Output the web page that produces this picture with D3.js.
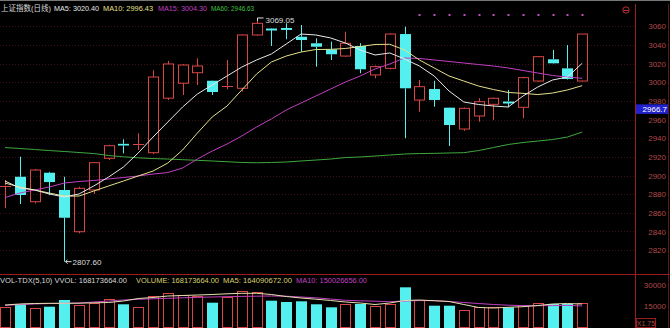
<!DOCTYPE html>
<html><head><meta charset="utf-8">
<script src="https://cdn.jsdelivr.net/npm/d3@7"></script>
<style>html,body{margin:0;padding:0;background:#000;overflow:hidden}</style>
</head><body>
<svg id="c" width="670" height="328"></svg>
<script>
const indexName = "上证指数(日线)";
const opens  = [2888.2,2898.7,2871.9,2903.0,2884.5,2839.7,2884.5,2918.5,2934.0,2932.6,2924.5,2983.0,2999.0,3010.3,3001.7,2995.3,2993.6,3050.8,3057.5,3058.3,3048.9,3041.9,3035.4,3028.2,3039.0,3007.9,3015.0,3051.8,2981.0,2992.8,2972.8,2949.9,2963.9,2976.4,2980.0,2973.2,3001.4,3024.7,3015.0,3001.4];
const closes = [2889.4,2879.1,2905.9,2893.0,2854.7,2886.3,2913.8,2932.0,2932.2,2934.0,3005.7,3019.7,3018.6,3017.5,2989.6,2996.3,3050.8,3063.3,3056.5,3056.2,3045.4,3038.2,3030.1,3041.9,3014.0,3016.8,3051.8,2993.6,2995.3,2981.0,2954.2,2972.1,2979.2,2982.9,2978.5,3005.0,3027.5,3020.4,3003.6,3051.8];
const highs  = [2895.2,2920.2,2907.0,2904.0,2898.7,2888.0,2914.5,2933.0,2938.9,2945.3,3013.0,3023.0,3019.5,3025.8,3002.0,3024.0,3051.5,3069.05,3058.0,3063.3,3061.5,3047.2,3043.6,3054.3,3042.0,3018.0,3052.5,3059.7,3002.5,3001.7,2973.0,2973.0,2983.0,2983.5,2991.8,3006.0,3028.0,3034.7,3040.0,3052.0];
const lows   = [2865.0,2869.4,2870.0,2879.0,2807.6,2838.0,2880.2,2916.5,2923.8,2927.4,2923.0,2981.0,2986.4,2997.1,2986.4,2992.5,2990.0,3050.0,3039.0,3046.2,3032.9,3016.8,3024.0,3027.5,3009.7,3004.3,3014.0,2940.0,2968.5,2973.8,2931.7,2948.0,2957.7,2959.6,2973.2,2961.4,3000.5,3020.0,3003.0,3001.0];
const ma5  = [2894.1,2886.6,2884.5,2880.2,2877.0,2880.2,2888.8,2898.4,2909.1,2924.2,2941.3,2957.4,2973.5,2987.5,2997.1,3006.8,3016.4,3024.0,3030.4,3041.1,3051.8,3050.8,3047.6,3042.2,3034.7,3029.3,3031.5,3025.0,3017.5,3006.8,2990.7,2978.9,2976.2,2974.6,2973.5,2985.3,2995.0,3002.5,3005.7,3020.40];
const ma10 = [2891.9,2887.7,2884.5,2881.2,2878.0,2878.0,2883.4,2888.8,2894.1,2899.5,2904.8,2913.4,2927.4,2945.6,2962.8,2974.6,2991.8,3008.9,3021.8,3028.2,3032.5,3035.2,3035.4,3036.3,3038.4,3040.6,3040.8,3034.7,3024.0,3015.4,3006.8,3001.4,2996.0,2992.3,2989.1,2988.2,2986.9,2988.5,2991.8,2996.43];
const ma15 = [2876.4,2881.2,2884.5,2887.7,2891.9,2893.6,2894.7,2896.3,2897.9,2899.5,2901.6,2903.2,2908.1,2917.7,2926.3,2933.8,2942.4,2952.1,2960.7,2970.3,2977.8,2985.3,2992.8,3000.3,3006.8,3014.3,3019.7,3026.1,3025.6,3024.0,3022.4,3020.7,3019.1,3017.5,3015.4,3012.7,3010.0,3007.3,3005.7,3004.30];
const ma60 = [2930.0,2929.0,2927.9,2926.8,2925.8,2924.7,2923.6,2921.5,2920.1,2919.0,2918.2,2917.7,2917.0,2916.3,2915.6,2914.8,2914.0,2913.7,2914.0,2914.5,2915.6,2916.6,2917.7,2919.3,2919.9,2920.9,2922.0,2923.1,2923.6,2923.8,2924.2,2924.5,2926.8,2930.0,2933.3,2935.4,2937.0,2938.6,2941.3,2946.63];
// volume in units of 10,000
const volume  = [14071,16429,13357,14500,19286,15714,17357,19786,16214,14071,22143,24071,22857,22143,17357,21643,25929,25214,18786,17857,18357,16214,14071,16214,16429,15000,16214,28357,19286,15214,15214,12143,14500,14071,14071,15714,17357,16429,16429,16817.3664];
const volMa5  = [15714,16429,16786,16929,16929,17000,17286,17500,18571,20357,21071,22143,22500,22857,23214,23714,24071,24071,23214,21786,20714,19857,18929,17857,17143,16071,17143,18929,19286,18786,18214,16071,13929,13571,14071,14500,15357,16429,16786,16409.0672];
const volMa10 = [15357,16071,16429,16786,16929,17143,17857,18571,19286,19786,20143,20500,20857,21143,21429,21643,21857,22000,22143,22000,21429,20857,20000,19071,18714,18429,18071,18571,18857,18786,18214,17500,16786,16071,15571,15286,15214,15286,15429,15002.6656];
const priceTicks = [3060,3040,3020,3000,2980,2960,2940,2920,2900,2880,2860,2840,2820];
const volTicks = [30000,15000];
const lastPrice = 2966.7;
const markerDays = [28,29,30,31,32,33,34,35,36,37,38,39];

const svg = d3.select("#c");
const FONT = "'Liberation Sans', Arial, 'Noto Sans CJK SC', sans-serif";
const N = opens.length;
const x = d3.scalePoint().domain(d3.range(N)).range([5, 582.2]);
const y = d3.scaleLinear().domain([2820, 3060]).range([250.1, 26.4]);
const vy = d3.scaleLinear().domain([0, 30000]).range([327, 285]);
const UP = "#d84646", DOWN = "#54f0f0", FRAME = "#9a1c1c";

svg.append("rect").attr("width",670).attr("height",328).attr("fill","#000");
svg.append("line").attr("x1",0).attr("x2",670).attr("y1",0.5).attr("y2",0.5).attr("stroke","#777");

// grid
svg.append("g").selectAll("line").data(priceTicks).join("line")
  .attr("x1",0).attr("x2",635).attr("y1",d=>Math.round(y(d))+0.5).attr("y2",d=>Math.round(y(d))+0.5)
  .attr("stroke","#3a1414").attr("stroke-dasharray","1,2");

// frames
svg.append("line").attr("x1",635.5).attr("x2",635.5).attr("y1",4).attr("y2",328).attr("stroke",FRAME);
svg.append("line").attr("x1",668.5).attr("x2",668.5).attr("y1",4).attr("y2",328).attr("stroke","#5a1a1a");
svg.append("line").attr("x1",0).attr("x2",670).attr("y1",274.5).attr("y2",274.5).attr("stroke",FRAME);

// small window icon at top right
svg.append("circle").attr("cx",626).attr("cy",10).attr("r",3.2).attr("fill","none").attr("stroke","#c03030");
svg.append("line").attr("x1",623.5).attr("x2",628.5).attr("y1",10.5).attr("y2",10.5).attr("stroke","#c03030");

// price axis
const ay = svg.append("g").attr("transform","translate(667,0)")
  .call(d3.axisLeft(y).tickValues(priceTicks).tickSize(0).tickPadding(1).tickFormat(d3.format("d")));
ay.select(".domain").remove();
ay.selectAll("text").attr("fill","#b04848").attr("font-size",8).attr("font-family",FONT);

const av = svg.append("g").attr("transform","translate(667,0)")
  .call(d3.axisLeft(vy).tickValues(volTicks).tickSize(0).tickPadding(1).tickFormat(d3.format("d")));
av.select(".domain").remove();
av.selectAll("text").attr("fill","#b04848").attr("font-size",8).attr("font-family",FONT);

// last price box
const ly = y(lastPrice);
svg.append("rect").attr("x",636).attr("y",ly-9).attr("width",32).attr("height",9.5).attr("fill","#2222cc");
svg.append("text").attr("x",667).attr("y",ly-1.5).attr("text-anchor","end").attr("fill","#fff")
  .attr("font-size",8).attr("font-family",FONT).text(lastPrice.toFixed(1));

// candles
const data = d3.range(N).map(i=>({i,o:opens[i],c:closes[i],h:highs[i],l:lows[i],up:closes[i]>=opens[i]}));
const cg = svg.append("g");
data.forEach(d=>{
  const px = Math.round(x(d.i));
  const col = d.up ? UP : DOWN;
  const yt = y(Math.max(d.o,d.c)), yb = y(Math.min(d.o,d.c));
  const cxl = px + 0.5;
  cg.append("line").attr("x1",cxl).attr("x2",cxl).attr("y1",y(d.h)).attr("y2",yt).attr("stroke",col);
  cg.append("line").attr("x1",cxl).attr("x2",cxl).attr("y1",yb).attr("y2",y(d.l)).attr("stroke",col);
  if (yb - yt < 1.5) {
    const yy = Math.round((yt+yb)/2)+0.5;
    cg.append("line").attr("x1",px-5).attr("x2",px+6).attr("y1",yy).attr("y2",yy).attr("stroke",col).attr("stroke-width",d.up?1:2);
  } else if (d.up) {
    cg.append("rect").attr("x",px-4.5).attr("y",yt).attr("width",10).attr("height",yb-yt)
      .attr("fill","none").attr("stroke",col);
  } else {
    cg.append("rect").attr("x",px-5).attr("y",yt).attr("width",11).attr("height",yb-yt).attr("fill",col);
  }
});

// MA lines
const line = d3.line().x((d,i)=>x(i)).y(d=>y(d));
[[ma60,"#3fa83f"],[ma15,"#c040c0"],[ma10,"#e6e08c"],[ma5,"#e8e8e8"]].forEach(([s,c])=>{
  svg.append("path").attr("d",line(s)).attr("fill","none").attr("stroke",c).attr("stroke-width",1);
});

// high / low markers
const hiI = d3.maxIndex(highs), loI = d3.minIndex(lows);
const hx = Math.round(x(hiI))+0.5, hy = y(highs[hiI]);
svg.append("path").attr("d",`M${hx},${hy+3}V${hy}H${hx+6}`).attr("stroke","#ddd").attr("fill","none");
svg.append("text").attr("x",hx+8).attr("y",hy+5).attr("fill","#ddd").attr("font-size",8).attr("font-family",FONT).text(highs[hiI].toFixed(2));
const lx = Math.round(x(loI))+0.5, lyy = y(lows[loI]);
svg.append("path").attr("d",`M${lx+1},${lyy}H${lx+7}M${lx+1},${lyy}l2,-2M${lx+1},${lyy}l2,2`).attr("stroke","#ddd").attr("fill","none");
svg.append("text").attr("x",lx+8).attr("y",lyy+3.5).attr("fill","#ddd").attr("font-size",8).attr("font-family",FONT).text(lows[loI].toFixed(2));

// top markers
svg.append("g").selectAll("rect").data(markerDays).join("rect")
  .attr("x",d=>Math.round(x(d))-0.5).attr("y",14).attr("width",2).attr("height",2).attr("fill","#c050c0");

// title
const titleSegs = [
  [indexName, "#d8d8d8", 1, 50],
  ["MA5: " + ma5[N-1].toFixed(2), "#e8e8e8", 54, 45],
  ["MA10: " + ma10[N-1].toFixed(2), "#e6e08c", 103, 50],
  ["MA15: " + ma15[N-1].toFixed(2), "#c040c0", 158, 49],
  ["MA60: " + ma60[N-1].toFixed(2), "#40c040", 211, 43]
];
svg.append("g").selectAll("text").data(titleSegs).join("text")
  .attr("x",d=>d[2]).attr("y",11).attr("fill",d=>d[1]).attr("font-size",8).attr("font-family",FONT)
  .attr("textLength",d=>d[3]).attr("lengthAdjust","spacingAndGlyphs").text(d=>d[0]);

// volume bars
const vg = svg.append("g");
data.forEach(d=>{
  const px = Math.round(x(d.i));
  const v = volume[d.i], top = vy(v);
  if (d.up) vg.append("rect").attr("x",px-4.5).attr("y",Math.round(top)+0.5).attr("width",10).attr("height",vy(0)-Math.round(top)).attr("fill","none").attr("stroke",UP);
  else vg.append("rect").attr("x",px-5).attr("y",top).attr("width",11).attr("height",vy(0)-top+1).attr("fill",DOWN);
});
const vline = d3.line().x((d,i)=>x(i)).y(d=>vy(d));
svg.append("path").attr("d",vline(volMa10)).attr("fill","none").attr("stroke","#c040c0");
svg.append("path").attr("d",vline(volMa5)).attr("fill","none").attr("stroke","#e6e0b0");

const fmtV = v => (v*10000).toFixed(2);
const volSegs = [
  ["VOL-TDX(5,10) VVOL: " + fmtV(volume[N-1]), "#d8d8d8", 0, 127],
  ["VOLUME: " + fmtV(volume[N-1]), "#d8d070", 136, 83],
  ["MA5: " + fmtV(volMa5[N-1]), "#d8d070", 223, 69],
  ["MA10: " + fmtV(volMa10[N-1]), "#c040c0", 296, 71]
];
svg.append("g").selectAll("text").data(volSegs).join("text")
  .attr("x",d=>d[2]).attr("y",283).attr("fill",d=>d[1]).attr("font-size",8).attr("font-family",FONT)
  .attr("textLength",d=>d[3]).attr("lengthAdjust","spacingAndGlyphs").text(d=>d[0]);

// unit box
svg.append("rect").attr("x",636.5).attr("y",318.5).attr("width",19).attr("height",9).attr("fill","none").attr("stroke",FRAME);
svg.append("text").attr("x",646).attr("y",326).attr("text-anchor","middle").attr("fill","#b04848").attr("font-size",7).attr("font-family",FONT).text("X1.75");
</script>
</body></html>
